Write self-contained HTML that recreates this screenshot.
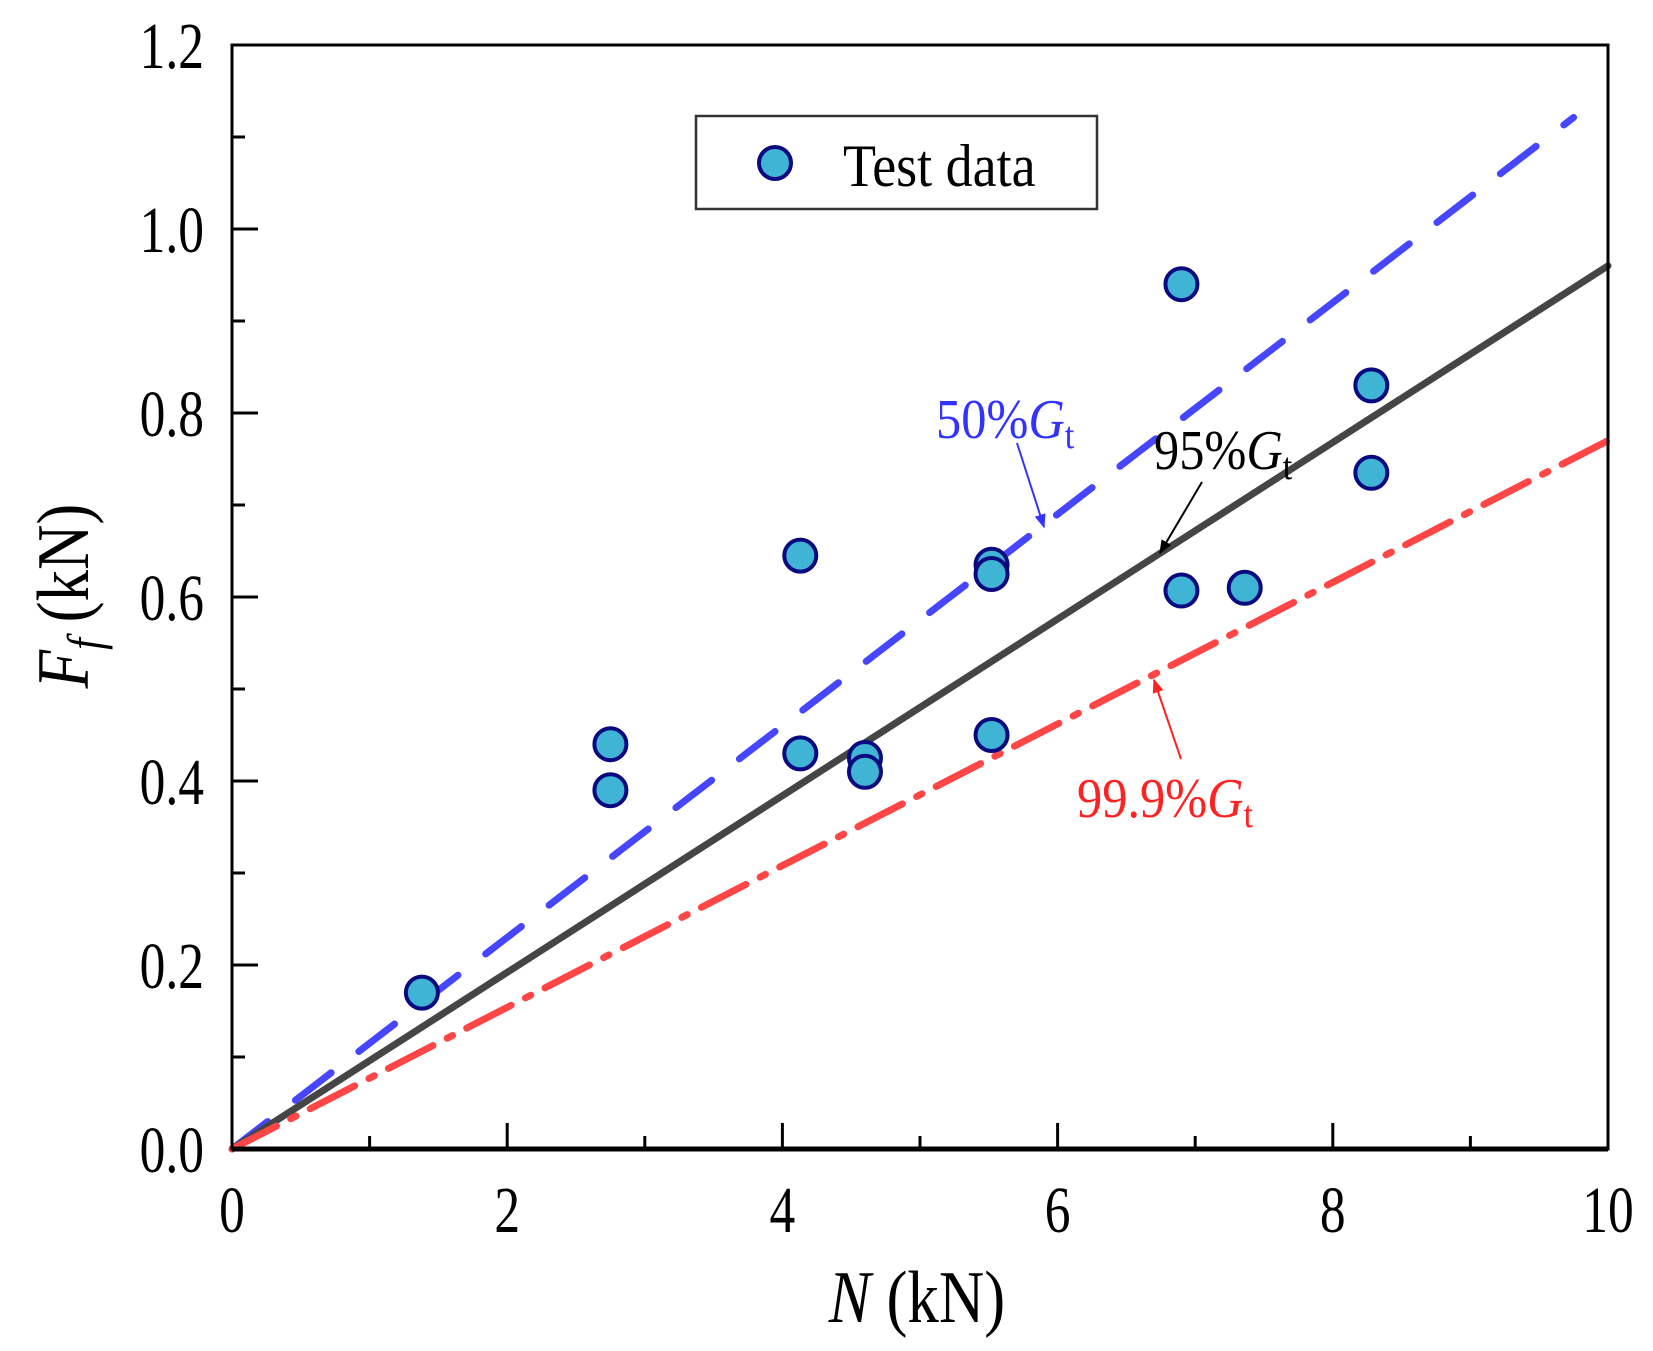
<!DOCTYPE html>
<html><head><meta charset="utf-8"><style>
html,body{margin:0;padding:0;background:#fff;}
svg{display:block;font-family:"Liberation Serif",serif;}
</style></head><body>
<svg id="chart" width="1653" height="1351" viewBox="0 0 1653 1351">
<defs>
<marker id="ab" viewBox="0 0 10 10" refX="9" refY="5" markerWidth="7" markerHeight="7" orient="auto"><path d="M0,1 L10,5 L0,9 z" fill="#3333ff"/></marker>
<marker id="ak" viewBox="0 0 10 10" refX="9" refY="5" markerWidth="7" markerHeight="7" orient="auto"><path d="M0,1 L10,5 L0,9 z" fill="#000"/></marker>
<marker id="ar" viewBox="0 0 10 10" refX="9" refY="5" markerWidth="7" markerHeight="7" orient="auto"><path d="M0,1 L10,5 L0,9 z" fill="#ff2222"/></marker>
</defs>
<g id="lines"></g>
<g id="pts"></g>
<g id="axes"></g>
<rect x="232" y="45" width="1376" height="1104" fill="none" stroke="#000" stroke-width="3"/>
<line x1="232" y1="1149" x2="1608" y2="1149" stroke="#000" stroke-width="5"/>
<g>
<rect x="696" y="116" width="401" height="93" fill="#fff" stroke="#333" stroke-width="2.5"/>
<circle cx="775" cy="163" r="16" fill="#40b4d4" stroke="#0a0a80" stroke-width="4"/>
<text transform="translate(843,186) scale(0.9,1)" font-size="60">Test data</text>
</g>
<text transform="translate(936,438) scale(0.9,1)" font-size="56" fill="#3333ff">50%<tspan font-style="italic">G</tspan><tspan font-size="38" dy="10">t</tspan></text>
<line x1="1017" y1="443" x2="1044" y2="527" stroke="#3333ff" stroke-width="2" marker-end="url(#ab)"/>
<text transform="translate(1154,469) scale(0.9,1)" font-size="56" fill="#000">95%<tspan font-style="italic">G</tspan><tspan font-size="38" dy="10">t</tspan></text>
<line x1="1202" y1="482" x2="1160" y2="553" stroke="#000" stroke-width="2" marker-end="url(#ak)"/>
<text transform="translate(1077,817) scale(0.9,1)" font-size="56" fill="#ff2222">99.9%<tspan font-style="italic">G</tspan><tspan font-size="38" dy="10">t</tspan></text>
<line x1="1181" y1="759" x2="1154" y2="680" stroke="#ff2222" stroke-width="2" marker-end="url(#ar)"/>
<text transform="translate(917,1322) scale(0.85,1)" font-size="74" text-anchor="middle"><tspan font-style="italic">N</tspan> (kN)</text>
<text transform="translate(88,596) rotate(-90) scale(0.85,1)" font-size="74" text-anchor="middle"><tspan font-style="italic">F</tspan><tspan font-style="italic" font-size="50" dy="14">f</tspan><tspan dy="-14"> (kN)</tspan></text>
</svg>
<script>
const xTicks=[0,2,4,6,8,10];
const yTicks=[0.0,0.2,0.4,0.6,0.8,1.0,1.2];
const ptsN=[1.38,2.75,2.75,4.13,4.13,4.6,4.6,5.52,5.52,5.52,6.9,6.9,7.36,8.28,8.28];
const ptsF=[0.17,0.44,0.39,0.645,0.43,0.425,0.41,0.635,0.625,0.45,0.94,0.607,0.61,0.83,0.735];
const slopes=[0.115,0.096,0.077];
const lineEnds=[9.75,10,10];
const X=v=>232+v*137.6, Y=v=>1149-v*920;
const NS='http://www.w3.org/2000/svg';
function mk(t,a,p){const e=document.createElementNS(NS,t);for(const k in a)e.setAttribute(k,a[k]);p.appendChild(e);return e;}
const ax=document.getElementById('axes'),lg=document.getElementById('lines'),pg=document.getElementById('pts');
const styles=[{s:'#4646ff',d:'45 35'},{s:'#454545',d:''},{s:'#ff4646',d:'50 16 6 16'}];
const names=['line-50pct','line-95pct','line-999pct'];
slopes.forEach((k,i)=>{
 const l=mk('line',{x1:X(0),y1:Y(0),x2:X(lineEnds[i]),y2:Y(k*lineEnds[i]),stroke:styles[i].s,'stroke-width':7,'stroke-dasharray':styles[i].d,'stroke-linecap':'round'},lg);
 
 
});
ptsN.forEach((n,i)=>{
 const c=mk('circle',{cx:X(n),cy:Y(ptsF[i]),r:16,fill:'#40b4d4',stroke:'#0a0a80','stroke-width':4},pg);
 
 
});
for(let v=0;v<=10;v++){
 const L=v%2===0?26:13;
 const t=mk('line',{x1:X(v),y1:1149,x2:X(v),y2:1149-L,stroke:'#000','stroke-width':3},ax);
 
 
}
for(let i=0;i<=12;i++){
 const v=i/10,L=i%2===0?26:13;
 const t=mk('line',{x1:232,y1:Y(v),x2:232+L,y2:Y(v),stroke:'#000','stroke-width':3},ax);
 
 
}
xTicks.forEach(v=>{
 const t=mk('text',{transform:'translate('+X(v)+',1232) scale(0.78,1)','font-size':66,'text-anchor':'middle'},ax);t.textContent=String(v);
 
 
});
yTicks.forEach(v=>{
 const t=mk('text',{transform:'translate(204,'+(Y(v)+23)+') scale(0.78,1)','font-size':66,'text-anchor':'end'},ax);t.textContent=v.toFixed(1);
 
 
});
</script>
</body></html>
